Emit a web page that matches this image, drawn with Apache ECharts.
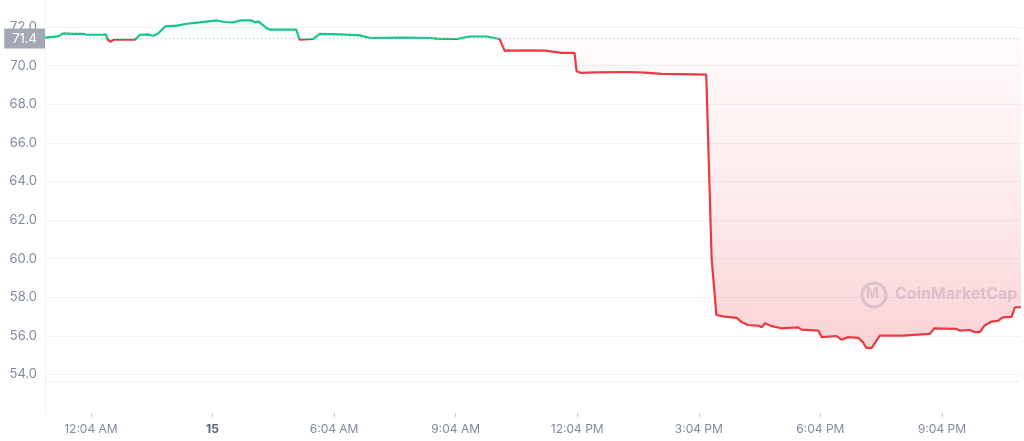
<!DOCTYPE html>
<html>
<head>
<meta charset="utf-8">
<title>Price 24h</title>
<script src="https://cdn.jsdelivr.net/npm/echarts@6/dist/echarts.min.js"></script>
<style>
  html, body { margin: 0; padding: 0; background: #fff; }
  #chart { width: 1024px; height: 441px; }
</style>
</head>
<body>
<div id="chart"></div>
<script>
// minutes relative to 12:04 AM on the 15th
const times = [-68, -53, -46, -41, -27, -12, -6, 18, 22, 25, 29, 34, 65, 73, 84, 92, 99, 110, 127, 142,
  154, 161, 186, 198, 210, 221, 238, 243, 248, 260, 265, 304, 309, 329, 339, 369, 398, 413, 462, 502,
  512, 541, 561, 586, 605, 613, 616, 618, 623, 647, 672, 697, 716, 719, 726, 746, 795, 820, 845, 894,
  911, 919, 926, 936, 956, 964, 973, 990, 993, 998, 1008, 1022, 1047, 1052, 1077, 1082, 1104, 1111, 1121, 1136,
  1143, 1148, 1156, 1163, 1168, 1202, 1242, 1249, 1281, 1286, 1301, 1309, 1316, 1323, 1333, 1343, 1350, 1363, 1368, 1377];
const prices = [71.45, 71.50, 71.55, 71.67, 71.64, 71.65, 71.60, 71.60, 71.62, 71.34, 71.24, 71.34, 71.34, 71.60, 71.62, 71.55, 71.65, 72.03, 72.07, 72.17,
  72.21, 72.24, 72.34, 72.26, 72.24, 72.34, 72.34, 72.24, 72.29, 71.95, 71.86, 71.86, 71.34, 71.38, 71.64, 71.62, 71.57, 71.43, 71.45, 71.43,
  71.40, 71.38, 71.51, 71.51, 71.38, 70.74, 70.79, 70.74, 70.78, 70.79, 70.78, 70.66, 70.66, 69.71, 69.62, 69.65, 69.67, 69.64, 69.57, 69.55,
  69.53, 59.97, 57.08, 57.01, 56.93, 56.70, 56.56, 56.51, 56.44, 56.65, 56.50, 56.39, 56.44, 56.32, 56.27, 55.93, 55.99, 55.80, 55.93, 55.89,
  55.67, 55.37, 55.37, 55.75, 56.01, 56.01, 56.10, 56.39, 56.36, 56.27, 56.30, 56.19, 56.19, 56.53, 56.73, 56.77, 56.96, 56.98, 57.48, 57.48];

const openPrice = 71.4;
const lowLine = 53.65;

const tickValues = [0, 180, 360, 540, 720, 900, 1080, 1260];
const tickLabels = ['12:04 AM', '15', '6:04 AM', '9:04 AM', '12:04 PM', '3:04 PM', '6:04 PM', '9:04 PM'];

const GREEN = '#16c784';
const RED = '#ea3943';
const LABEL = '#808a9d';
const MARK = 'rgba(200,206,222,0.7)';

const chart = echarts.init(document.getElementById('chart'));

const option = {
  animation: false,
  textStyle: { fontFamily: 'Inter, "Noto Sans", sans-serif' },
  grid: { left: 45, right: 3, top: 0, bottom: 28 },
  xAxis: {
    type: 'value',
    min: -68,
    max: 1377,
    axisLine: { show: false },
    splitLine: { show: false },
    axisTick: {
      customValues: tickValues,
      length: 4,
      lineStyle: { color: '#c8ccd4' }
    },
    axisLabel: {
      customValues: tickValues,
      margin: 10,
      color: LABEL,
      fontSize: 12,
      formatter: (v) => {
        const s = tickLabels[tickValues.indexOf(v)];
        return s === '15' ? '{b|' + s + '}' : s;
      },
      rich: {
        b: { fontWeight: 'bold', color: '#58667e', fontSize: 12 }
      }
    }
  },
  yAxis: {
    type: 'value',
    min: 52,
    max: 73.4,
    interval: 2,
    axisLine: { show: true, onZero: false, lineStyle: { color: '#f1f3f6' } },
    axisTick: { show: false },
    axisLabel: {
      color: LABEL,
      fontSize: 13,
      margin: 8,
      showMinLabel: false,
      showMaxLabel: false,
      formatter: (v) => v.toFixed(1)
    },
    splitLine: {
      showMinLine: false,
      showMaxLine: false,
      lineStyle: { color: '#f1f3f6' }
    }
  },
  // green above the opening price, red below
  visualMap: {
    show: false,
    type: 'piecewise',
    dimension: 1,
    seriesIndex: 0,
    pieces: [
      { gt: openPrice, lte: 100, color: GREEN },
      { gt: 0, lte: openPrice, color: RED }
    ]
  },
  graphic: [
    {
      type: 'circle',
      shape: { cx: 874, cy: 295, r: 12 },
      style: { fill: 'none', stroke: MARK, lineWidth: 3 },
      z: 1
    },
    {
      type: 'text',
      left: 866,
      top: 287,
      style: { text: 'M', fill: MARK, font: 'bold 14px Inter' },
      z: 1
    },
    {
      type: 'text',
      left: 895,
      top: 286,
      style: { text: 'CoinMarketCap', fill: MARK, font: 'bold 16px Inter' },
      z: 1
    }
  ],
  series: [
    {
      type: 'line',
      data: times.map((t, i) => [t, prices[i]]),
      symbol: 'none',
      lineStyle: { width: 2.2 },
      areaStyle: {
        origin: openPrice,
        color: {
          type: 'linear',
          x: 0, y: 0, x2: 0, y2: 413,
          global: true,
          colorStops: [
            { offset: 0, color: 'rgba(22,199,132,0.16)' },
            { offset: 0.094, color: 'rgba(22,199,132,0.02)' },
            { offset: 0.095, color: 'rgba(234,57,67,0.03)' },
            { offset: 0.5, color: 'rgba(234,57,67,0.15)' },
            { offset: 0.85, color: 'rgba(234,57,67,0.32)' },
            { offset: 1, color: 'rgba(234,57,67,0.34)' }
          ]
        }
      },
      markLine: {
        silent: true,
        symbol: 'none',
        lineStyle: { type: [1, 3], color: '#b8bec9', width: 1 },
        data: [
          {
            yAxis: openPrice,
            label: {
              show: true,
              position: 'start',
              distance: 0,
              formatter: openPrice.toFixed(1),
              color: '#fff',
              fontSize: 13,
              backgroundColor: '#a2a8b5',
              padding: [4, 8, 3, 8]
            }
          },
          { yAxis: lowLine, label: { show: false } }
        ]
      }
    }
  ]
};

chart.setOption(option);
</script>
</body>
</html>
